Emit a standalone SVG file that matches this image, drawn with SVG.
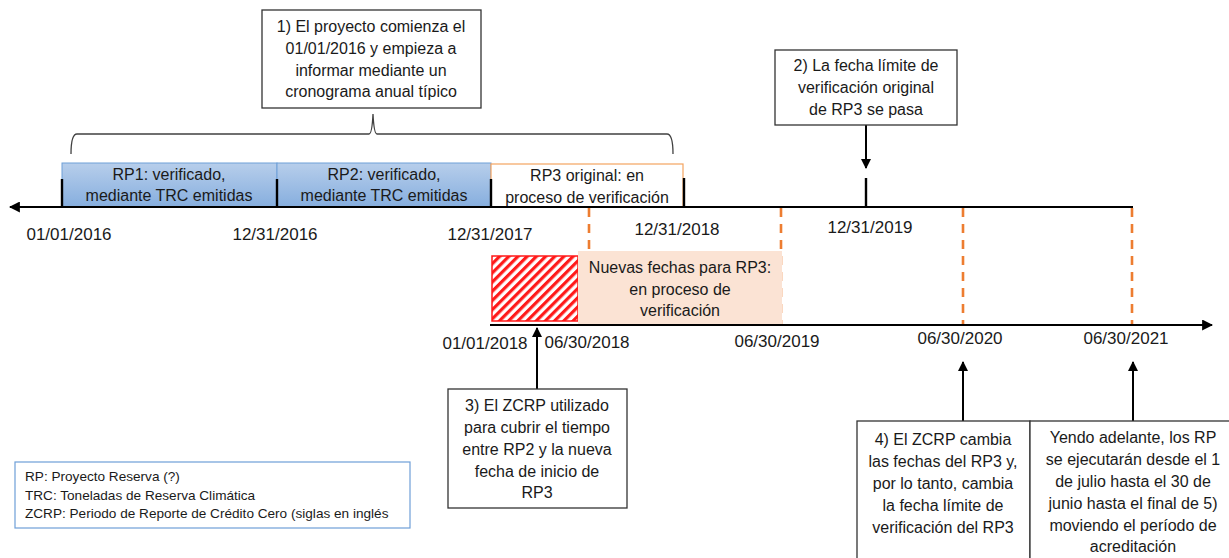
<svg xmlns="http://www.w3.org/2000/svg" width="1229" height="558" viewBox="0 0 1229 558">
<style>
  text { font-family: "Liberation Sans", Arial, sans-serif; fill: #1a1a1a; }
  .t { font-size: 16px; text-anchor: middle; }
  .d { font-size: 17px; text-anchor: middle; }
  .lg { font-size: 13.6px; }
  .box { fill: #ffffff; stroke: #333333; stroke-width: 1.3; }
  .axis { stroke: #000000; stroke-width: 2.2; fill: none; }
  .tick { stroke: #000000; stroke-width: 2.4; }
  .dash { stroke: #ED7D31; stroke-width: 2.6; stroke-dasharray: 9 7; fill: none; }
  .arr { stroke: #000000; stroke-width: 2; fill: none; }
</style>
<defs>
  <linearGradient id="blue" x1="0" y1="0" x2="0" y2="1">
    <stop offset="0" stop-color="#B7CEEB"/>
    <stop offset="1" stop-color="#86AEDE"/>
  </linearGradient>
  <pattern id="hatch" width="6.5" height="6.5" patternUnits="userSpaceOnUse" patternTransform="rotate(45)">
    <rect width="6.5" height="6.5" fill="#ffffff"/>
    <rect width="3.2" height="6.5" fill="#FF1A1A"/>
  </pattern>
  <marker id="ah" viewBox="0 0 10 10" refX="9" refY="5" markerWidth="5" markerHeight="5" orient="auto-start-reverse" markerUnits="strokeWidth">
    <path d="M0,0 L10,5 L0,10 z" fill="#000000"/>
  </marker>
</defs>

<g id="dashes">
  <line class="dash" x1="589" y1="208" x2="589" y2="324"/>
  <line class="dash" x1="781" y1="208" x2="781" y2="324"/>
  <line class="dash" x1="963" y1="208" x2="963" y2="324"/>
  <line class="dash" x1="1132" y1="208" x2="1132" y2="324"/>
</g>

<g id="rp1">
  <rect x="62" y="163" width="215" height="44" fill="url(#blue)" stroke="#6E9FD8" stroke-width="1"/>
  <text class="t" x="169" y="180">RP1: verificado,</text>
  <text class="t" x="169" y="201">mediante TRC emitidas</text>
</g>
<g id="rp2">
  <rect x="277" y="163" width="214" height="44" fill="url(#blue)" stroke="#6E9FD8" stroke-width="1"/>
  <text class="t" x="384" y="180">RP2: verificado,</text>
  <text class="t" x="384" y="201">mediante TRC emitidas</text>
</g>
<g id="rp3-original">
  <rect x="491" y="164" width="192" height="43" fill="#ffffff" stroke="#F4A460" stroke-width="1.2"/>
  <text class="t" x="587" y="181">RP3 original: en</text>
  <text class="t" x="587" y="203">proceso de verificación</text>
</g>

<g id="zcrp">
  <rect x="492" y="256" width="86" height="65" fill="url(#hatch)" stroke="#FF1A1A" stroke-width="1.5"/>
</g>
<g id="rp3-new">
  <rect x="578" y="251" width="204" height="73" fill="#FBE3D4"/>
  <text class="t" x="680" y="273">Nuevas fechas para RP3:</text>
  <text class="t" x="680" y="295">en proceso de</text>
  <text class="t" x="680" y="316">verificación</text>
</g>

<g id="axes">
  <line class="axis" x1="1133" y1="207" x2="10" y2="207" marker-end="url(#ah)"/>
  <line class="axis" x1="490" y1="325" x2="1212" y2="325" marker-end="url(#ah)"/>
  <line class="tick" x1="62" y1="179" x2="62" y2="207"/>
  <line class="tick" x1="277" y1="179" x2="277" y2="207"/>
  <line class="tick" x1="491" y1="179" x2="491" y2="207"/>
  <line class="tick" x1="684" y1="178" x2="684" y2="207"/>
  <line class="tick" x1="866" y1="178" x2="866" y2="207"/>
</g>

<g id="dates">
  <text class="d" x="69" y="240">01/01/2016</text>
  <text class="d" x="275" y="240">12/31/2016</text>
  <text class="d" x="490" y="240">12/31/2017</text>
  <text class="d" x="677" y="235">12/31/2018</text>
  <text class="d" x="870" y="233">12/31/2019</text>
  <text class="d" x="485" y="349">01/01/2018</text>
  <text class="d" x="587" y="348">06/30/2018</text>
  <text class="d" x="777" y="347">06/30/2019</text>
  <text class="d" x="960" y="344">06/30/2020</text>
  <text class="d" x="1126" y="344">06/30/2021</text>
</g>

<g id="brace">
  <path d="M71,154 Q71,134 77,134 L369,134 Q372,134 373,114 Q374,134 377,134 L667,134 Q673,134 673,154" fill="none" stroke="#404040" stroke-width="1.3"/>
</g>

<g id="connectors">
  <line class="arr" x1="866" y1="125" x2="866" y2="168" marker-end="url(#ah)"/>
  <line class="arr" x1="537" y1="389" x2="537" y2="328" marker-end="url(#ah)"/>
  <line class="arr" x1="963" y1="421" x2="963" y2="362" marker-end="url(#ah)"/>
  <line class="arr" x1="1133" y1="421" x2="1133" y2="362" marker-end="url(#ah)"/>
</g>

<g id="note1">
  <rect class="box" x="262" y="10" width="219" height="98"/>
  <text class="t" x="371" y="32">1) El proyecto comienza el</text>
  <text class="t" x="371" y="54">01/01/2016 y empieza a</text>
  <text class="t" x="371" y="76">informar mediante un</text>
  <text class="t" x="371" y="97">cronograma anual típico</text>
</g>
<g id="note2">
  <rect class="box" x="775" y="50" width="182" height="75"/>
  <text class="t" x="866" y="71">2) La fecha límite de</text>
  <text class="t" x="866" y="93">verificación original</text>
  <text class="t" x="866" y="115">de RP3 se pasa</text>
</g>
<g id="note3">
  <rect class="box" x="448" y="389" width="179" height="119"/>
  <text class="t" x="537" y="411">3) El ZCRP utilizado</text>
  <text class="t" x="537" y="433">para cubrir el tiempo</text>
  <text class="t" x="537" y="455">entre RP2 y la nueva</text>
  <text class="t" x="537" y="477">fecha de inicio de</text>
  <text class="t" x="537" y="498">RP3</text>
</g>
<g id="note4">
  <rect class="box" x="857" y="421" width="173" height="145"/>
  <text class="t" x="943" y="445">4) El ZCRP cambia</text>
  <text class="t" x="943" y="467">las fechas del RP3 y,</text>
  <text class="t" x="943" y="489">por lo tanto, cambia</text>
  <text class="t" x="943" y="511">la fecha límite de</text>
  <text class="t" x="943" y="533">verificación del RP3</text>
</g>
<g id="note5">
  <rect class="box" x="1030" y="421" width="205" height="145"/>
  <text class="t" x="1133" y="443">Yendo adelante, los RP</text>
  <text class="t" x="1133" y="465">se ejecutarán desde el 1</text>
  <text class="t" x="1133" y="487">de julio hasta el 30 de</text>
  <text class="t" x="1133" y="509">junio hasta el final de 5)</text>
  <text class="t" x="1133" y="531">moviendo el período de</text>
  <text class="t" x="1133" y="552">acreditación</text>
</g>
<g id="legend">
  <rect x="15" y="462" width="395" height="66" fill="#ffffff" stroke="#6E9FD8" stroke-width="1.2"/>
  <text class="lg" x="25" y="481">RP: Proyecto Reserva (?)</text>
  <text class="lg" x="25" y="500">TRC: Toneladas de Reserva Climática</text>
  <text class="lg" x="25" y="518">ZCRP: Periodo de Reporte de Crédito Cero (siglas en inglés</text>
</g>
</svg>
